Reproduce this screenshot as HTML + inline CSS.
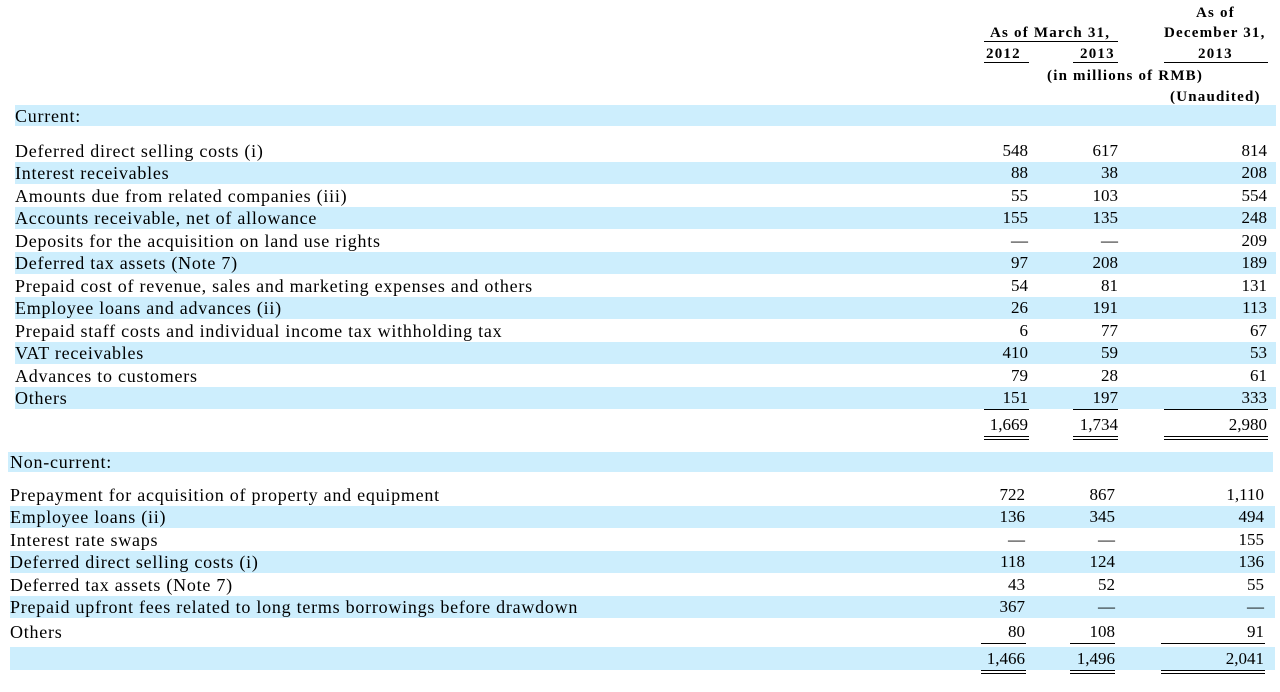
<!DOCTYPE html>
<html><head><meta charset="utf-8">
<style>
body{margin:0;width:1280px;height:692px;background:#fff;position:relative;overflow:hidden;font-family:"Liberation Serif",serif;font-size:17px;color:#000}
.a{position:absolute;white-space:nowrap;line-height:18px}
.lab{font-size:18px;letter-spacing:0.75px}
.band{position:absolute;background:#cdeefd}
.r{text-align:right}
.h{font-weight:bold;font-size:15px;letter-spacing:1.2px}
.ul{position:absolute;height:0;border-top:1.5px solid #000}
.dl{position:absolute;height:2px;border-top:1px solid #000;border-bottom:1px solid #000}
</style></head><body>
<div class="a h" style="left:990px;top:24px">As of March 31,</div>
<div class="ul" style="left:984px;top:41px;width:134px"></div>
<div class="a h" style="left:1196px;top:4px">As of</div>
<div class="a h" style="left:1164px;top:24px">December 31,</div>
<div class="a h" style="left:986px;top:45px">2012</div>
<div class="a h" style="left:1080px;top:45px">2013</div>
<div class="a h" style="left:1198px;top:45px">2013</div>
<div class="ul" style="left:984px;top:62px;width:45px"></div>
<div class="ul" style="left:1073px;top:62px;width:45px"></div>
<div class="ul" style="left:1164px;top:62px;width:104px"></div>
<div class="a h" style="left:1047px;top:67px">(in millions of RMB)</div>
<div class="a h" style="left:1170px;top:88px">(Unaudited)</div>
<div id="t"></div>
<script>
const curLabels=["Deferred direct selling costs (i)","Interest receivables","Amounts due from related companies (iii)","Accounts receivable, net of allowance","Deposits for the acquisition on land use rights","Deferred tax assets (Note 7)","Prepaid cost of revenue, sales and marketing expenses and others","Employee loans and advances (ii)","Prepaid staff costs and individual income tax withholding tax","VAT receivables","Advances to customers","Others"];
const cur2012=["548","88","55","155","—","97","54","26","6","410","79","151"];
const cur2013=["617","38","103","135","—","208","81","191","77","59","28","197"];
const curDec=["814","208","554","248","209","189","131","113","67","53","61","333"];
const curTotal=["1,669","1,734","2,980"];
const ncLabels=["Prepayment for acquisition of property and equipment","Employee loans (ii)","Interest rate swaps","Deferred direct selling costs (i)","Deferred tax assets (Note 7)","Prepaid upfront fees related to long terms borrowings before drawdown","Others"];
const nc2012=["722","136","—","118","43","367","80"];
const nc2013=["867","345","—","124","52","—","108"];
const ncDec=["1,110","494","155","136","55","—","91"];
const ncTotal=["1,466","1,496","2,041"];
const T=document.getElementById('t');
function box(cls,st,txt){const d=document.createElement('div');d.className=cls;d.style.cssText=st;if(txt!=null)d.textContent=txt;T.appendChild(d);return d;}
function band(x,y,w,h,n){const d=box('band',`left:${x}px;top:${y}px;width:${w}px;height:${h}px`);

}
function cell(x,y,t,n){const d=box('a r',`left:${x-100}px;width:100px;top:${y-9}px`,t);

}
function lab(x,y,t,n){const d=box('a lab',`left:${x}px;top:${y-9}px`,t);

}
band(15,105,1261,21,'current-band');
lab(15,116,'Current:','current-heading');
const rh=22.45;
curLabels.forEach((l,i)=>{const y=151+i*rh;
 if(i%2==1)band(15,y-11,1261,22,'current-row-band');
 lab(15,y,l,'current-row-label');
 cell(1028,y,cur2012[i],'current-2012-value');
 cell(1118,y,cur2013[i],'current-2013-value');
 cell(1267,y,curDec[i],'current-dec-value');});
[[984,45],[1073,45],[1164,104]].forEach(c=>{const d=box('ul',`left:${c[0]}px;top:409px;width:${c[1]}px`);

});
cell(1028,425,curTotal[0],'current-total-2012');cell(1118,425,curTotal[1],'current-total-2013');cell(1267,425,curTotal[2],'current-total-dec');
[[984,45],[1073,45],[1164,104]].forEach(c=>{const d=box('dl',`left:${c[0]}px;top:436px;width:${c[1]}px`);

});
band(8,452,1265,20,'noncurrent-band');
lab(10,462,'Non-current:','noncurrent-heading');
ncLabels.forEach((l,i)=>{const y=495+i*rh+(i==6?2:0);
 if(i%2==1)band(10,y-11,1265,22,'noncurrent-row-band');
 lab(10,y,l,'noncurrent-row-label');
 cell(1025,y,nc2012[i],'noncurrent-2012-value');
 cell(1115,y,nc2013[i],'noncurrent-2013-value');
 cell(1264,y,ncDec[i],'noncurrent-dec-value');});
[[981,45],[1070,45],[1161,104]].forEach(c=>{const d=box('ul',`left:${c[0]}px;top:643px;width:${c[1]}px`);

});
band(10,647,1265,23,'noncurrent-total-band');
cell(1025,659,ncTotal[0],'noncurrent-total-2012');cell(1115,659,ncTotal[1],'noncurrent-total-2013');cell(1264,659,ncTotal[2],'noncurrent-total-dec');
[[981,45],[1070,45],[1161,104]].forEach(c=>{const d=box('dl',`left:${c[0]}px;top:670px;width:${c[1]}px`);

});
</script>
</body></html>
